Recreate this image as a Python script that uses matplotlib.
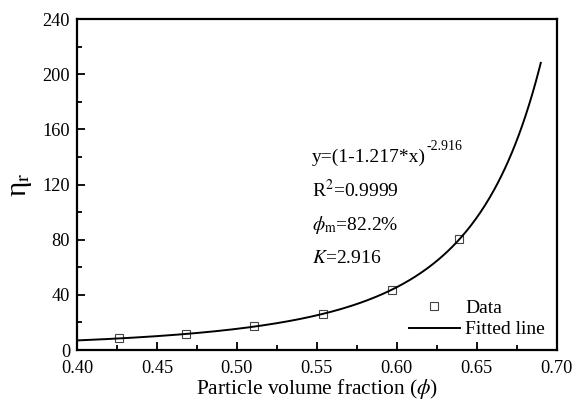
import numpy as np
import matplotlib
matplotlib.use("Agg")
import matplotlib.pyplot as plt
from matplotlib.ticker import MultipleLocator

plt.rcParams['font.family'] = ['Liberation Serif', 'DejaVu Serif']
plt.rcParams['mathtext.fontset'] = 'stix'

# Measured relative viscosity vs particle volume fraction
phi_data = [0.426, 0.468, 0.511, 0.554, 0.597, 0.639]
eta_data = [8.4, 11.7, 17.5, 26.0, 43.5, 80.2]

# Fitted model: eta = (1 - a*phi)^(-K)
fit_a = 1.217
fit_K = 2.916
phi_fit_range = [0.40, 0.69]

phi_fit = np.linspace(phi_fit_range[0], phi_fit_range[1], 400)
eta_fit = (1 - fit_a * phi_fit) ** (-fit_K)

fig = plt.figure(figsize=(5.83, 4.01), dpi=100)
ax = fig.add_axes([0.132, 0.127, 0.823, 0.8254])

ax.plot(phi_data, eta_data, ls='none', marker='s', ms=6, mfc='none',
        mec='#444444', mew=0.8, label='Data', zorder=2)
ax.plot(phi_fit, eta_fit, color='black', lw=1.4, label='Fitted line', zorder=3)

ax.set_xlim(0.40, 0.70)
ax.set_ylim(0, 240)
ax.xaxis.set_major_locator(MultipleLocator(0.05))
ax.xaxis.set_minor_locator(MultipleLocator(0.025))
ax.yaxis.set_major_locator(MultipleLocator(40))
ax.yaxis.set_minor_locator(MultipleLocator(20))
ax.xaxis.set_major_formatter(plt.FuncFormatter(lambda v, p: f"{v:.2f}"))

ax.tick_params(which='both', direction='in', top=False, right=False,
               labelsize=13.2, width=1.3)
ax.tick_params(axis='x', which='both', pad=7.5)
ax.tick_params(axis='y', which='both', pad=5)
ax.tick_params(which='major', length=6)
ax.tick_params(which='minor', length=3.5)
for s in ax.spines.values():
    s.set_linewidth(1.6)

ax.set_xlabel(r'Particle volume fraction ($\phi$)', fontsize=15.5, labelpad=0)
ax.set_ylabel(r'η$_{\mathrm{r}}$', fontsize=21, labelpad=6)

tx = 0.49
t1 = ax.text(tx, 0.583, 'y=(1-1.217*x)', transform=ax.transAxes,
             fontsize=14, va='center')
ax.annotate('-2.916', xy=(1.0, 0.72), xycoords=t1, fontsize=10,
            va='bottom', ha='left')
ax.text(tx, 0.483, r'R$^{2}$=0.9999', transform=ax.transAxes,
        fontsize=14, va='center')
ax.text(tx, 0.378, r'$\phi_{\mathrm{m}}$=82.2%', transform=ax.transAxes,
        fontsize=14, va='center')
ax.text(tx, 0.278, r'$K$=2.916', transform=ax.transAxes,
        fontsize=14, va='center')

h, l = ax.get_legend_handles_labels()
ax.legend(h, l, loc='lower right', frameon=False,
          fontsize=14, handlelength=2.6, handletextpad=0.3,
          borderaxespad=0.2, bbox_to_anchor=(1.0, 0.0), labelspacing=0.2)

fig.savefig('out.png', dpi=100)
